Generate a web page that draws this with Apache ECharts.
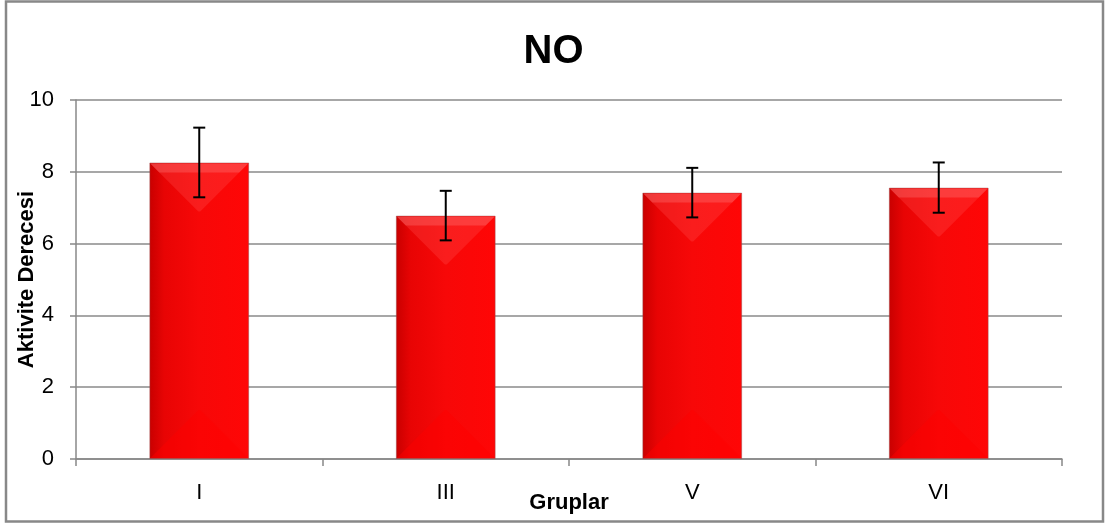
<!DOCTYPE html>
<html>
<head>
<meta charset="utf-8">
<script src="https://cdn.jsdelivr.net/npm/echarts@6/dist/echarts.min.js"></script>
<style>
html,body{margin:0;padding:0;background:#fff;}
#c{width:1107px;height:527px;}
</style>
</head>
<body>
<div id="c"></div>
<script>
const categories = ['I', 'III', 'V', 'VI'];
const means = [8.26, 6.78, 7.42, 7.56];
const errors = [0.97, 0.69, 0.69, 0.70];
const yTicks = [0, 2, 4, 6, 8, 10];

const chart = echarts.init(document.getElementById('c'));
const FONT = 'Liberation Sans';
const BAR_FRAC = 0.405;

const errData = categories.map((c, i) => [i, means[i] - errors[i], means[i] + errors[i]]);
const bevelData = categories.map((c, i) => [i, means[i]]);

chart.setOption({
  animation: false,
  backgroundColor: '#fff',
  title: {
    text: 'NO', left: 'center', top: 27,
    textStyle: { fontFamily: FONT, fontWeight: 'bold', fontSize: 40, color: '#000' }
  },
  graphic: [{
    type: 'rect', shape: { x: 6, y: 1.5, width: 1097, height: 520 },
    style: { fill: 'none', stroke: '#888', lineWidth: 2.5 }, silent: true, z: 100
  }],
  grid: { left: 76, right: 45, top: 100, bottom: 68, outerBoundsMode: 'none', containLabel: false },
  xAxis: {
    type: 'category', data: categories,
    name: 'Gruplar', nameLocation: 'middle', nameGap: 33, nameMoveOverlap: false,
    nameTextStyle: { fontFamily: FONT, fontWeight: 'bold', fontSize: 22, color: '#000' },
    axisLine: { lineStyle: { color: '#888', width: 1.5 } },
    axisTick: { show: true, length: 7, lineStyle: { color: '#888', width: 1.5 } },
    axisLabel: { fontFamily: FONT, fontSize: 22, color: '#000', margin: 23 }
  },
  yAxis: {
    type: 'value', min: 0, max: 10, interval: 2,
    name: 'Aktivite Derecesi', nameLocation: 'middle', nameGap: 38, nameRotate: 90, nameMoveOverlap: false,
    nameTextStyle: { fontFamily: FONT, fontWeight: 'bold', fontSize: 22, color: '#000' },
    axisLine: { show: true, lineStyle: { color: '#888', width: 1.5 } },
    axisTick: { show: true, length: 6, lineStyle: { color: '#888', width: 1.5 } },
    splitLine: { lineStyle: { color: '#8a8a8a', width: 1.5 } },
    axisLabel: {
      fontFamily: FONT, fontSize: 22, color: '#000', margin: 22,
      formatter: v => yTicks.includes(v) ? String(v) : ''
    }
  },
  series: [{
    type: 'bar', data: means, barWidth: (BAR_FRAC * 100) + '%',
    itemStyle: {
      color: new echarts.graphic.LinearGradient(0, 0, 1, 0, [
        { offset: 0, color: '#c80000' },
        { offset: 0.15, color: '#e80404' },
        { offset: 0.5, color: '#f70808' },
        { offset: 1, color: '#ff0606' }
      ]),
      borderColor: 'rgba(150,80,80,0.45)', borderWidth: 1
    },
    z: 2
  }, {
    type: 'custom', data: bevelData, z: 3, silent: true,
    renderItem: function (params, api) {
      const i = api.value(0);
      const top = api.coord([i, api.value(1)]);
      const base = api.coord([i, 0]);
      const w = api.size([1, 0])[0] * BAR_FRAC;
      const l = top[0] - w / 2 + 1, r = top[0] + w / 2 - 1;
      const t = top[1] + 1, b = base[1] - 1;
      const d = Math.min(w / 2 - 1, 48);
      const band = 9;
      return {
        type: 'group', children: [
          { type: 'polygon', shape: { points: [[l, t], [r, t], [r - d, t + d], [l + d, t + d]] },
            style: { fill: 'rgba(255,70,70,0.35)' } },
          { type: 'polygon', shape: { points: [[l, t], [r, t], [r - band, t + band], [l + band, t + band]] },
            style: { fill: 'rgba(255,120,120,0.35)' } },
          { type: 'polygon', shape: { points: [[l, b], [r, b], [r - d, b - d], [l + d, b - d]] },
            style: { fill: 'rgba(255,0,0,0.45)' } }
        ]
      };
    }
  }, {
    type: 'custom', data: errData, z: 5,
    renderItem: function (params, api) {
      const x = api.value(0);
      const lo = api.coord([x, api.value(1)]);
      const hi = api.coord([x, api.value(2)]);
      const w = 6;
      const st = { stroke: '#000', lineWidth: 2 };
      return {
        type: 'group', children: [
          { type: 'line', shape: { x1: lo[0], y1: lo[1], x2: hi[0], y2: hi[1] }, style: st },
          { type: 'line', shape: { x1: lo[0] - w, y1: lo[1], x2: lo[0] + w, y2: lo[1] }, style: st },
          { type: 'line', shape: { x1: hi[0] - w, y1: hi[1], x2: hi[0] + w, y2: hi[1] }, style: st }
        ]
      };
    }
  }]
});
</script>
</body>
</html>
